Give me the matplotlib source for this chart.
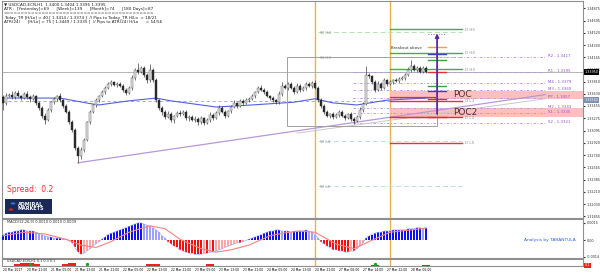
import numpy as np
import matplotlib.pyplot as plt
from matplotlib.patches import Rectangle, Circle

# USDCAD H1 candles (first open, then closes)
first_open = 1.3359
closes = [1.3350, 1.3360, 1.3362, 1.3359, 1.3365, 1.3360, 1.3357, 1.3363, 1.3359, 1.3356,
          1.3360, 1.3350, 1.3343, 1.3331, 1.3325, 1.3340, 1.3351, 1.3356, 1.3360, 1.3354,
          1.3346, 1.3337, 1.3322, 1.3311, 1.3285, 1.3273, 1.3282, 1.3296, 1.3322, 1.3337,
          1.3347, 1.3354, 1.3360, 1.3366, 1.3372, 1.3378, 1.3380, 1.3376, 1.3378, 1.3375,
          1.3369, 1.3365, 1.3372, 1.3386, 1.3398, 1.3395, 1.3401, 1.3391, 1.3383, 1.3398,
          1.3383, 1.3354, 1.3343, 1.3337, 1.3330, 1.3334, 1.3325, 1.3331, 1.3335, 1.3334,
          1.3337, 1.3328, 1.3330, 1.3325, 1.3327, 1.3322, 1.3328, 1.3321, 1.3325, 1.3333,
          1.3328, 1.3335, 1.3343, 1.3337, 1.3331, 1.3338, 1.3344, 1.3350, 1.3346, 1.3353,
          1.3350, 1.3354, 1.3356, 1.3360, 1.3366, 1.3372, 1.3369, 1.3366, 1.3360, 1.3357,
          1.3354, 1.3351, 1.3363, 1.3375, 1.3372, 1.3378, 1.3372, 1.3366, 1.3375, 1.3369,
          1.3372, 1.3378, 1.3375, 1.3379, 1.3372, 1.3354, 1.3346, 1.3337, 1.3331, 1.3334,
          1.3330, 1.3333, 1.3337, 1.3331, 1.3328, 1.3334, 1.3327, 1.3324, 1.3330, 1.3340,
          1.3349, 1.3391, 1.3389, 1.3380, 1.3369, 1.3378, 1.3372, 1.3383, 1.3378, 1.3380,
          1.3383, 1.3382, 1.3385, 1.3386, 1.3391, 1.3398, 1.3404, 1.3398, 1.3401, 1.3395,
          1.3401, 1.3395]
# wick lengths in pips
upper_wick = [3, 4, 2, 5, 3, 4, 2, 3, 4, 2, 3, 2, 3, 2, 4, 3, 2, 3, 2, 4,
              2, 3, 2, 3, 2, 3, 4, 3, 2, 3, 2, 3, 2, 3, 2, 3, 4, 2, 3, 2,
              3, 2, 3, 4, 3, 10, 3, 2, 3, 9, 2, 3, 2, 3, 2, 4, 3, 2, 3, 4,
              2, 3, 2, 3, 4, 2, 3, 2, 3, 4, 2, 3, 4, 2, 3, 2, 3, 4, 2, 3,
              2, 3, 2, 3, 2, 3, 4, 2, 3, 2, 3, 2, 4, 5, 3, 2, 3, 2, 4, 3,
              2, 3, 2, 3, 4, 2, 3, 2, 3, 2, 3, 2, 3, 2, 3, 2, 3, 2, 3, 4,
              3, 12, 3, 2, 3, 4, 2, 3, 2, 3, 2, 3, 2, 3, 2, 4, 9, 3, 2, 3,
              2, 3]
lower_wick = [10, 3, 2, 3, 4, 2, 3, 2, 3, 4, 2, 3, 4, 3, 5, 2, 3, 2, 3, 2,
              3, 2, 3, 4, 3, 10, 4, 3, 2, 3, 2, 3, 2, 2, 3, 2, 3, 2, 3, 2,
              3, 4, 2, 3, 2, 3, 2, 3, 4, 2, 3, 2, 3, 4, 3, 2, 3, 4, 2, 3,
              2, 3, 4, 2, 3, 4, 2, 3, 2, 3, 3, 2, 3, 2, 3, 2, 3, 2, 3, 2,
              3, 2, 3, 2, 3, 2, 2, 3, 2, 3, 2, 3, 2, 3, 2, 3, 2, 3, 2, 3,
              2, 3, 2, 3, 2, 3, 4, 3, 2, 3, 3, 2, 3, 2, 3, 2, 3, 4, 2, 3,
              3, 2, 3, 2, 3, 2, 3, 2, 3, 2, 3, 2, 3, 2, 3, 2, 3, 2, 3, 2,
              2, 2]

ma_idx = [0, 19, 29, 32, 42, 51, 56, 66, 71, 83, 97, 104, 110, 118, 128, 141]
ma_val = [1.3357, 1.3357, 1.3349, 1.3347, 1.3353, 1.3357, 1.3353, 1.3347, 1.3344,
          1.3347, 1.3351, 1.3356, 1.3350, 1.3347, 1.3354, 1.3357]

weekly_names = ["W H4", "W H3", "W L4", "W L5"]
weekly_prices = [1.3453, 1.3417, 1.3295, 1.3229]
daily_names = ["D H5", "D H4", "D H3", "D L3", "D L4", "D L5"]
daily_prices = [1.3457, 1.3423, 1.3399, 1.3353, 1.3329, 1.3292]
pivot_names = ["R2", "R1", "M4", "M3", "PP", "M2", "S1", "S2"]
pivot_prices = [1.3417, 1.3395, 1.3379, 1.3369, 1.3357, 1.3343, 1.3335, 1.3321]
poc_zone = [1.3356, 1.3367]
poc2_zone = [1.3330, 1.3343]
mark_prices = [1.3431, 1.3421, 1.3412, 1.3395, 1.3375, 1.3367, 1.3355, 1.3330]
mark_colors = ["#f0a040", "#3040d0", "#40a040", "#e03030", "#40a040", "#3040d0", "#e03030", "#e03030"]
price_ticks = [1.34875, 1.34695, 1.34520, 1.34340, 1.34165, 1.33985, 1.33810, 1.33630, 1.33455,
               1.33275, 1.33095, 1.32920, 1.32740, 1.32565, 1.32385, 1.32210, 1.32030, 1.31855]

# MACD main value per bar, in 0.0001
macd = [5, 6, 7, 7, 8, 8, 9, 9, 8, 8, 8, 7, 6, 5, 4, 3, 3, 2, 2, 2,
        1, 1, 0, -2, -6, -10, -12, -11, -9, -7, -5, -3, -1, 1, 3, 5, 6, 7, 8, 9,
        10, 11, 12, 13, 14, 15, 15, 14, 13, 12, 11, 9, 7, 4, 2, -1, -3, -5, -6, -8,
        -9, -10, -11, -11, -12, -12, -12, -11, -11, -10, -10, -9, -8, -7, -6, -5, -4, -3, -2, -2,
        -1, 0, 1, 2, 3, 4, 5, 6, 7, 8, 8, 9, 9, 8, 8, 8, 7, 8, 8, 8,
        8, 9, 8, 7, 5, 2, -1, -3, -5, -6, -8, -8, -9, -9, -10, -10, -9, -9, -7, -5,
        -2, 2, 4, 5, 6, 7, 7, 8, 8, 8, 9, 9, 9, 9, 9, 10, 10, 10, 11, 11,
        10, 11]
signal_idx = [0, 7, 14, 21, 26, 31, 36, 42, 49, 54, 59, 66, 71, 76, 82, 89, 94, 99,
              104, 111, 117, 122, 129, 136, 141]
signal_val = [4, 7, 5.5, 1, -4, -6, -1, 7, 12.5, 10, 1, -7, -10, -8, -4, 4, 6.5, 8,
              7, -3, -7, -1, 7, 9, 10.5]

spread_idx = [5, 7, 9, 11, 21, 23, 49, 51, 69, 124, 141]
spread_val = [0.3, 0.5, 0.4, 0.3, 0.3, 0.4, 0.3, 0.3, 0.3, 0.2, 0.2]
spread_green = [9, 28, 124]

date_labels = ["20 Mar 2017", "20 Mar 21:00", "21 Mar 05:00", "21 Mar 13:00", "21 Mar 21:00",
               "22 Mar 05:00", "22 Mar 13:00", "22 Mar 21:00", "23 Mar 05:00", "23 Mar 13:00",
               "23 Mar 21:00", "24 Mar 05:00", "24 Mar 13:00", "24 Mar 21:00", "27 Mar 06:00",
               "27 Mar 14:00", "27 Mar 22:00", "28 Mar 06:00"]
session_marks = [104, 129]

W, H = 600, 276


def box(x0, y0, x1, y1):
    return [x0 / W, 1 - y1 / H, (x1 - x0) / W, (y1 - y0) / H]


def fpos(x, y):
    return x / W, 1 - y / H


fig = plt.figure(figsize=(6, 2.76), dpi=100)
ax = fig.add_axes(box(2, 1, 583, 218))
ax_m = fig.add_axes(box(2, 219, 583, 258), sharex=ax)
ax_s = fig.add_axes(box(2, 259, 583, 266), sharex=ax)

for a in (ax, ax_m, ax_s):
    for sp in a.spines.values():
        sp.set_color("#909090")
        sp.set_linewidth(0.8)
    a.yaxis.tick_right()
    a.tick_params(axis="y", labelsize=2.4, length=1.5, pad=1, colors="#303030")
    a.tick_params(axis="x", length=0)
    for s in session_marks:
        a.axvline(s, color="#f0b050", lw=1.0, zorder=1)
ax.set_xlim(-0.33, 193.33)
ax.set_ylim(1.31827, 1.34981)

# candles
idx = np.arange(len(closes))
c = np.array(closes)
o = np.array([first_open] + closes[:-1])
hi = np.maximum(o, c) + np.array(upper_wick) * 1e-4
lo = np.minimum(o, c) - np.array(lower_wick) * 1e-4
up = c >= o
ax.vlines(idx, lo, hi, color="#404040", lw=0.5, zorder=4)
ax.bar(idx[up], np.maximum((c - o)[up], 3e-5), bottom=o[up], width=0.6,
       color="#e4e4e4", edgecolor="#505050", lw=0.3, zorder=5)
ax.bar(idx[~up], np.maximum((o - c)[~up], 3e-5), bottom=c[~up], width=0.6,
       color="#2a2a2a", edgecolor="#2a2a2a", lw=0.3, zorder=5)

ax.plot(ma_idx, ma_val, color="#5060e0", lw=0.8, zorder=3)
ax.axhline(1.3353, xmax=0.76, color="#a0a8c0", lw=0.6, ls=(0, (4, 3)), zorder=2)
ax.axhline(closes[-1], color="#a8a8a8", lw=0.6, zorder=2)

# trend line and box
ax.plot([25, 180.7], [1.3263, 1.3362], color="#b898d8", lw=0.9, zorder=3)
ax.plot([98, 180.7], [1.3306, 1.3356], color="#c8c8c8", lw=0.7, zorder=3)
ax.add_patch(Rectangle((94.7, 1.3317), 50, 0.0100, fill=False, ec="#a0a0a0", lw=0.7, zorder=3))

# POC zones
for lo_p, hi_p, name in ((poc_zone[0], poc_zone[1], "POC"), (poc2_zone[0], poc2_zone[1], "POC2")):
    ax.add_patch(Rectangle((129, lo_p), 64.5, hi_p - lo_p, color="#ffb8b8", alpha=0.9, lw=0, zorder=1))
    ax.text(150, (lo_p + hi_p) / 2, name, fontsize=6.5, color="#503030", va="center", zorder=6)
ax.plot([129, 144], [poc_zone[0] + 0.0002] * 2, color="#e03030", lw=0.9, zorder=4)
ax.plot([129, 144], [poc2_zone[0]] * 2, color="#e03030", lw=0.9, zorder=4)

# weekly levels
for name, p in zip(weekly_names, weekly_prices):
    col = "#b8e0b8" if "H" in name else "#b8e0e8"
    ax.plot([105, 153], [p, p], color=col, lw=0.7, ls=(0, (5, 3)), zorder=2)
    ax.text(105.8, p - 0.00012, name, fontsize=3, color="#909090", va="center", zorder=6)

# daily levels
for name, p in zip(daily_names, daily_prices):
    col = "#40b040" if "H" in name else "#f03030"
    ax.plot([129, 153], [p, p], color=col, lw=1.0, zorder=4)
    ax.text(154, p - 0.00008, name, fontsize=3, color="#909090", va="center", zorder=6)
ax.text(129.3, 1.3427, "Breakout above", fontsize=2.8, color="#303030", va="bottom", zorder=6)

# pivot levels on the right
for name, p in zip(pivot_names, pivot_prices):
    ax.plot([116.7, 180.7], [p, p], color="#b890e8", lw=0.6, ls=(0, (3, 2, 1, 2)), zorder=2)
    ax.text(181.7, p + 0.00012, "%s , %.4f" % (name, p), fontsize=2.8, color="#9050d0",
            va="center", zorder=6)

# projection arrow with level ticks
ax.annotate("", xy=(144.7, 1.3455), xytext=(144.7, 1.3330),
            arrowprops=dict(arrowstyle="-|>", color="#5a2a9a", lw=1.3, mutation_scale=5), zorder=7)
ax.plot([141.5, 147.5], [1.3450, 1.3450], color="#a070e0", lw=0.7, ls=":", zorder=6)
for p, col in zip(mark_prices, mark_colors):
    ax.plot([141.5, 147.5], [p, p], color=col, lw=1.0, zorder=6)

ax.set_yticks(price_ticks)
ax.set_yticklabels(["%.5f" % t for t in price_ticks])
ax.tick_params(axis="x", labelbottom=False)

# price boxes on the axis
tr = ax.get_yaxis_transform()
ax.text(1.003, closes[-1], "1.33950", transform=tr, fontsize=2.4, color="white", va="center",
        bbox=dict(boxstyle="square,pad=0.2", fc="black", ec="none"), zorder=8, clip_on=False)
ax.text(1.003, 1.3354, "1.33542", transform=tr, fontsize=2.4, color="white", va="center",
        bbox=dict(boxstyle="square,pad=0.2", fc="#8090b0", ec="none"), zorder=8, clip_on=False)

# MACD panel
mv = np.array(macd) * 1e-4
prev = np.concatenate([[mv[0]], mv[:-1]])
cols = []
for v, pv in zip(mv, prev):
    if v >= 0:
        cols.append("#1010f0" if v >= pv else "#a0a0f8")
    else:
        cols.append("#f01010" if v <= pv else "#f8a8a8")
ax_m.bar(idx, mv, width=0.45, color=cols, lw=0, zorder=3)
ax_m.plot(idx, mv, color="#a0b0ff", lw=0.5, zorder=3)
ax_m.plot(signal_idx, np.array(signal_val) * 1e-4, color="#ff8080", lw=0.8, zorder=4)
ax_m.set_ylim(-0.0015, 0.00183)
ax_m.set_yticks([0.0015, 0.0, -0.0014])
ax_m.set_yticklabels(["0.0015", "0.00", "-0.0014"])
ax_m.tick_params(axis="x", labelbottom=False)
ax_m.text(1.5, 0.0016, "MACD(12,26,9) 0.0010 0.0010 0.0009", fontsize=2.6, color="#303030", va="center")
ax_m.text(173.5, 0.00005, "Analysis by TARANTULA", fontsize=3.2, color="#3060e0", va="center")

# spread panel
ax_s.set_ylim(0, 1)
ax_s.bar(spread_idx, spread_val, width=2.6, color="#f02020", lw=0, zorder=3)
ax_s.scatter(spread_green, [0.35] * len(spread_green), s=2, color="#20a020", zorder=4)
ax_s.axhline(0.05, color="#f0a0a0", lw=0.8)
ax_s.text(1.5, 0.72, "USDCAD-ECN,H1 0.1 0.3 0.1", fontsize=2.4, color="#303030", va="center")
ax_s.set_yticks([])
ax_s.set_xticks(np.arange(0, 8 * len(date_labels), 8))
ax_s.set_xticklabels(date_labels, fontsize=2.2, ha="left")
ax_s.tick_params(axis="x", pad=1.5, length=0, labelbottom=True)
ax_s.text(1.003, 0.1, "0.1", transform=ax_s.transAxes, fontsize=2.4, color="white", va="center",
          bbox=dict(boxstyle="square,pad=0.2", fc="#f02020", ec="none"), clip_on=False)

# header texts
hdr = ["USDCAD-ECN,H1  1.3400 1.3404 1.3396 1.3395",
       "ATR :  [Yesterday]=69      [Week]=139      [Month]=74      [180 Days]=87",
       "===========================================",
       "Today_TR [H/Lo] = 40 [ 1.3414 / 1.3374 ]  // Pips to Today_TR H/Lo  = 18/21",
       "ATR(24)      [H/Lo] = 75 [ 1.3449 / 1.3335 ]  // Pips to ATR(24) H/Lo      = 54/56"]
for k, line in enumerate(hdr):
    fig.text(*fpos(4, 4.5 + 4.5 * k), ("\u25bc " if k == 0 else "") + line, fontsize=3,
             color="#202020", va="center")

fig.text(*fpos(7, 190), "Spread:  0.2", fontsize=5.5, color="#f03030", va="center")
fig.add_artist(Rectangle(fpos(5, 214), 47 / W, 15 / H, transform=fig.transFigure,
                         fc="#1b2a55", ec="none"))
fig.add_artist(Circle(fpos(13, 203.5), 2.4 / W, transform=fig.transFigure, fc="#3070e0", ec="none"))
fig.add_artist(Circle(fpos(11, 209.5), 2.4 / W, transform=fig.transFigure, fc="#e02020", ec="none"))
fig.text(*fpos(18, 206.5), "ADMIRAL\nMARKETS", fontsize=3.5, color="white", weight="bold",
         va="center", linespacing=0.9)

fig.savefig("out.png", dpi=100)
